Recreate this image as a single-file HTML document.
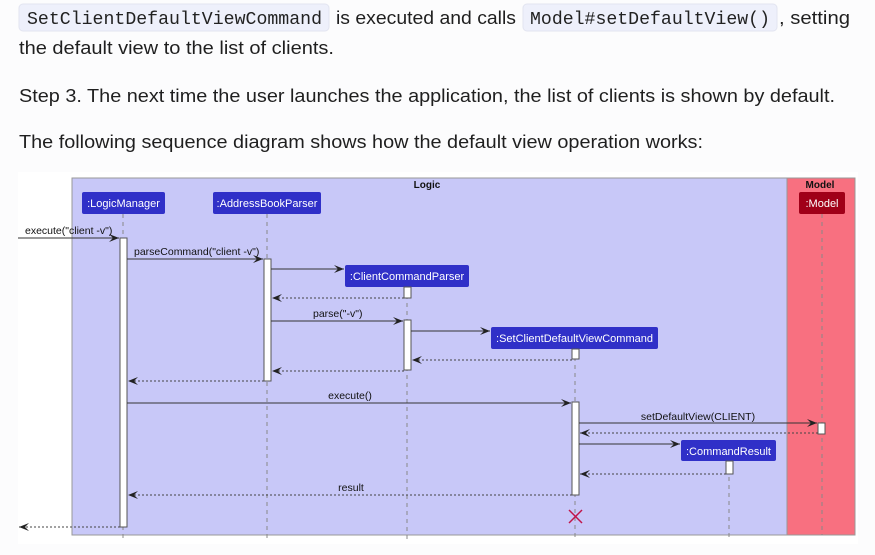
<!DOCTYPE html>
<html><head><meta charset="utf-8"><style>
html,body{margin:0;padding:0;background:#fcfcfd;width:875px;height:555px;overflow:hidden}
svg{display:block}
</style></head><body>
<svg width="875" height="555" viewBox="0 0 875 555" xmlns="http://www.w3.org/2000/svg">
<defs>
<marker id="a" markerWidth="12" markerHeight="10" refX="10" refY="5" orient="auto" markerUnits="userSpaceOnUse">
<path d="M0,1 L10,5 L0,9 L4,5 Z" fill="#222"/>
</marker>
</defs>
<g font-family="Liberation Sans, sans-serif" font-size="18" fill="#1f1f1f">
<rect x="19" y="4" width="310" height="27" rx="4" fill="#eef0fb" stroke="#e2e4f0"/>
<text x="27" y="24" font-family="Liberation Mono, monospace" textLength="295" lengthAdjust="spacingAndGlyphs" fill="#222">SetClientDefaultViewCommand</text>
<text x="336" y="24" textLength="180" lengthAdjust="spacingAndGlyphs">is executed and calls</text>
<rect x="523" y="4" width="254" height="27" rx="4" fill="#eef0fb" stroke="#e2e4f0"/>
<text x="530" y="24" font-family="Liberation Mono, monospace" textLength="240" lengthAdjust="spacingAndGlyphs" fill="#222">Model#setDefaultView()</text>
<text x="779" y="24" textLength="71" lengthAdjust="spacingAndGlyphs">, setting</text>
<text x="19" y="54" textLength="315" lengthAdjust="spacingAndGlyphs">the default view to the list of clients.</text>
<text x="19" y="102" textLength="816" lengthAdjust="spacingAndGlyphs">Step 3. The next time the user launches the application, the list of clients is shown by default.</text>
<text x="19" y="148" textLength="684" lengthAdjust="spacingAndGlyphs">The following sequence diagram shows how the default view operation works:</text>
</g>
<rect x="18" y="172" width="840" height="372" fill="#fff"/>
<rect x="72" y="178" width="715" height="357" fill="#c8c8f8" stroke="#999" stroke-width="1"/>
<rect x="787" y="178" width="68" height="357" fill="#f87080" stroke="#999" stroke-width="1"/>
<g font-family="Liberation Sans, sans-serif" font-size="10" font-weight="bold" fill="#111">
<text x="427" y="188" text-anchor="middle">Logic</text>
<text x="820" y="188" text-anchor="middle">Model</text>
</g>
<g stroke="#888" stroke-dasharray="4,4" stroke-width="1">
<line x1="123" y1="214" x2="123" y2="540"/>
<line x1="267" y1="214" x2="267" y2="540"/>
<line x1="407" y1="287" x2="407" y2="540"/>
<line x1="575" y1="349" x2="575" y2="540"/>
<line x1="729" y1="461" x2="729" y2="540"/>
<line x1="822" y1="214" x2="822" y2="535"/>
</g>
<g font-family="Liberation Sans, sans-serif" font-size="11" fill="#fff" text-anchor="middle">
<rect x="82" y="192" width="83" height="22" rx="2" fill="#3030c8"/><text x="123.5" y="207">:LogicManager</text>
<rect x="213" y="192" width="108" height="22" rx="2" fill="#3030c8"/><text x="267" y="207">:AddressBookParser</text>
<rect x="345" y="265" width="124" height="22" rx="2" fill="#3030c8"/><text x="407" y="280">:ClientCommandParser</text>
<rect x="491" y="327" width="167" height="22" rx="2" fill="#3030c8"/><text x="574.5" y="342">:SetClientDefaultViewCommand</text>
<rect x="681" y="440" width="95" height="21" rx="2" fill="#3030c8"/><text x="728.5" y="455">:CommandResult</text>
<rect x="799" y="192" width="46" height="22" rx="2" fill="#a00018"/><text x="822" y="207">:Model</text>
</g>
<g fill="#fff" stroke="#555" stroke-width="1">
<rect x="120" y="238" width="7" height="289"/>
<rect x="264" y="259" width="7" height="122"/>
<rect x="404" y="287" width="7" height="11"/>
<rect x="404" y="320" width="7" height="50"/>
<rect x="572" y="349" width="7" height="10"/>
<rect x="572" y="402" width="7" height="93"/>
<rect x="818" y="423" width="7" height="11"/>
<rect x="726" y="461" width="7" height="13"/>
</g>
<g stroke="#333" stroke-width="1" fill="none" marker-end="url(#a)">
<line x1="18" y1="238" x2="119" y2="238"/>
<line x1="127" y1="259" x2="263" y2="259"/>
<line x1="271" y1="269" x2="344" y2="269"/>
<line x1="271" y1="321" x2="403" y2="321"/>
<line x1="411" y1="331" x2="490" y2="331"/>
<line x1="127" y1="403" x2="571" y2="403"/>
<line x1="579" y1="423" x2="817" y2="423"/>
<line x1="579" y1="444" x2="680" y2="444"/>
</g>
<g stroke="#444" stroke-width="1" stroke-dasharray="2,2" fill="none" marker-end="url(#a)">
<line x1="404" y1="298" x2="272" y2="298"/>
<line x1="572" y1="360" x2="412" y2="360"/>
<line x1="404" y1="371" x2="272" y2="371"/>
<line x1="264" y1="381" x2="128" y2="381"/>
<line x1="818" y1="433" x2="580" y2="433"/>
<line x1="726" y1="474" x2="580" y2="474"/>
<line x1="572" y1="495" x2="128" y2="495"/>
<line x1="120" y1="527" x2="19" y2="527"/>
</g>
<g font-family="Liberation Sans, sans-serif" font-size="10.5" fill="#111">
<text x="25" y="234">execute("client -v")</text>
<text x="134" y="255">parseCommand("client -v")</text>
<text x="313" y="317">parse("-v")</text>
<text x="350" y="399" text-anchor="middle">execute()</text>
<text x="698" y="420" text-anchor="middle">setDefaultView(CLIENT)</text>
<text x="351" y="491" text-anchor="middle">result</text>
</g>
<g stroke="#c0154a" stroke-width="1.5">
<line x1="569" y1="510" x2="582" y2="523"/>
<line x1="582" y1="510" x2="569" y2="523"/>
</g>
</svg>
</body></html>
